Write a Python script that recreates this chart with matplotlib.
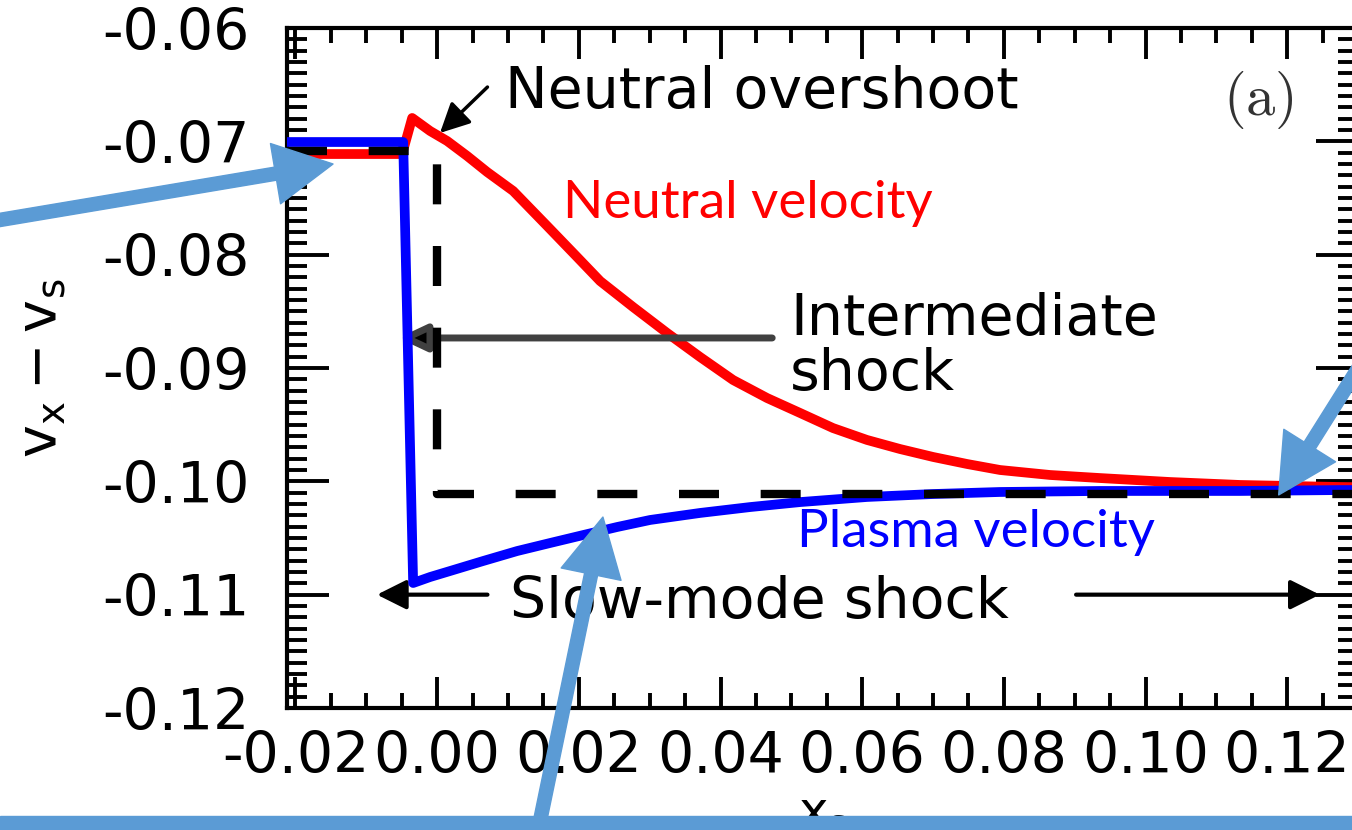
import matplotlib
matplotlib.use("Agg")
import matplotlib.pyplot as plt
from matplotlib.patches import Rectangle, ConnectionPatch
from matplotlib.ticker import MultipleLocator, FormatStrFormatter

plt.rcParams["font.family"] = ["DejaVu Sans"]
plt.rcParams["axes.unicode_minus"] = False
plt.rcParams["mathtext.default"] = "regular"

# neutral fluid velocity in the shock frame (red)
x_neutral = [-0.0212, -0.00494, -0.00353, -0.00099, 0.00141, 0.00423, 0.00706, 0.01073,
             0.01553, 0.01948, 0.02301, 0.02766, 0.03246, 0.03712, 0.04178, 0.04658,
             0.05124, 0.05589, 0.06069, 0.06535, 0.07001, 0.07481, 0.07946, 0.08652,
             0.09358, 0.10346, 0.11334, 0.12745, 0.1300]
v_neutral = [-0.07112, -0.07112, -0.06794, -0.06909, -0.06997, -0.07129, -0.07271, -0.07438,
             -0.07747, -0.08003, -0.08233, -0.08462, -0.08691, -0.08903, -0.09106, -0.09265,
             -0.09397, -0.09530, -0.09635, -0.09715, -0.09785, -0.09847, -0.09900, -0.09944,
             -0.09971, -0.10006, -0.10032, -0.10050, -0.10052]

# plasma velocity in the shock frame (blue)
x_plasma = [-0.0212, -0.0048, -0.00339, -0.00099, 0.00183, 0.00649, 0.01129, 0.01595,
            0.02061, 0.02541, 0.03006, 0.03712, 0.04418, 0.05124, 0.06069, 0.07001,
            0.07946, 0.09358, 0.11334, 0.12745, 0.1300]
v_plasma = [-0.07006, -0.07006, -0.10897, -0.10844, -0.10791, -0.10703, -0.10615, -0.10544,
            -0.10474, -0.10403, -0.10341, -0.10279, -0.10227, -0.10183, -0.10138, -0.10112,
            -0.10094, -0.10085, -0.10085, -0.10077, -0.10077]

# ideal MHD jump (dashed)
x_ideal = [-0.0212, 0.0, 0.0, 0.13]
v_ideal = [-0.07085, -0.07085, -0.1011, -0.1011]

xlim = (-0.0212, 0.13)
ylim = (-0.12, -0.06)

slide_blue = "#5B9BD5"
# callout arrows: tail in figure fraction, tip in data coords
callout_tails = [(-0.022, 0.729), (1.013, 0.578), (0.395, -0.024)]
callout_tips = [(-0.0147, -0.0720), (0.1188, -0.1012), (0.0234, -0.10315)]

W, H = 1352, 830
fig = plt.figure(figsize=(W / 100, H / 100), dpi=100)
ax = fig.add_axes([287 / W, 122 / H, 1071 / W, 680 / H])

ax.plot(x_neutral, v_neutral, color="#ff0000", lw=7, solid_joinstyle="round", zorder=3)
ax.plot(x_plasma, v_plasma, color="#0000ff", lw=7, solid_joinstyle="round", zorder=4)
ax.plot(x_ideal, v_ideal, color="black", lw=6, dashes=(4.8, 5.0), zorder=5)

ax.set_xlim(*xlim)
ax.set_ylim(*ylim)

ax.xaxis.set_major_locator(MultipleLocator(0.02))
ax.xaxis.set_minor_locator(MultipleLocator(0.005))
ax.yaxis.set_major_locator(MultipleLocator(0.01))
ax.yaxis.set_minor_locator(MultipleLocator(0.001))
ax.xaxis.set_major_formatter(FormatStrFormatter("%.2f"))
ax.yaxis.set_major_formatter(FormatStrFormatter("%.2f"))

ax.tick_params(which="both", direction="in", top=True, right=True, width=2.8, labelsize=41)
ax.tick_params(axis="x", which="major", length=22, pad=16)
ax.tick_params(axis="x", which="minor", length=11)
ax.tick_params(axis="y", which="major", length=30, pad=27)
ax.tick_params(axis="y", which="minor", length=14.5)
for sp in ax.spines.values():
    sp.set_linewidth(3)

ax.set_ylabel(r"$v_x - v_s$", fontsize=40)
ax.yaxis.set_label_coords(-0.205, 0.5)
ax.set_xlabel(r"$x_s$", fontsize=36)
ax.xaxis.set_label_coords(0.5, -0.1206)

# annotations
ax.text(0.0096, -0.06706, "Neutral overshoot", fontsize=41, ha="left", va="baseline")
ax.annotate("", xy=(0.0004, -0.06926), xytext=(0.0071, -0.06521),
            arrowprops=dict(arrowstyle="-|>,head_length=0.9,head_width=0.45", mutation_scale=20,
                            color="black", lw=2.5, shrinkA=0, shrinkB=0))

ax.text(0.1159, -0.06635, r"$\mathrm{(a)}$", fontsize=42, math_fontfamily="cm",
        color="#333333", ha="center", va="center")

ax.text(0.0178, -0.07677, "Neutral velocity", fontsize=38, family="Lato",
        color="#ff0000", ha="left", va="baseline")
ax.text(0.0508, -0.10580, "Plasma velocity", fontsize=38, family="Lato",
        color="#0000ff", ha="left", va="baseline")

ax.text(0.0498, -0.08709, "Intermediate", fontsize=41, ha="left", va="baseline")
ax.text(0.0498, -0.09194, "shock", fontsize=41, ha="left", va="baseline")
ax.annotate("", xy=(-0.0055, -0.08735), xytext=(0.0473, -0.08735),
            arrowprops=dict(arrowstyle="-|>,head_length=0.85,head_width=0.4", mutation_scale=20,
                            fc="black", ec="#404040", lw=5, shrinkA=0, shrinkB=0))

ax.text(0.0103, -0.11206, "Slow-mode shock", fontsize=41, ha="left", va="baseline")
for x_from, x_to in [(0.0071, -0.0085), (0.0902, 0.1246)]:
    ax.annotate("", xy=(x_to, -0.11), xytext=(x_from, -0.11),
                arrowprops=dict(arrowstyle="-|>,head_length=0.9,head_width=0.45", mutation_scale=20,
                                color="black", lw=3, shrinkA=0, shrinkB=0))

# slide callouts drawn over the plot
for tail, tip in zip(callout_tails, callout_tips):
    con = ConnectionPatch(xyA=tail, coordsA="figure fraction", xyB=tip, coordsB="data", axesB=ax,
                          arrowstyle="simple,head_length=4.2,head_width=4.4,tail_width=0.95",
                          mutation_scale=10, color=slide_blue, shrinkA=0, shrinkB=0, zorder=20)
    fig.add_artist(con)
fig.add_artist(Rectangle((0, -0.01), 1, 0.0269, transform=fig.transFigure,
                         color=slide_blue, zorder=20))

fig.savefig("out.png", dpi=100)
